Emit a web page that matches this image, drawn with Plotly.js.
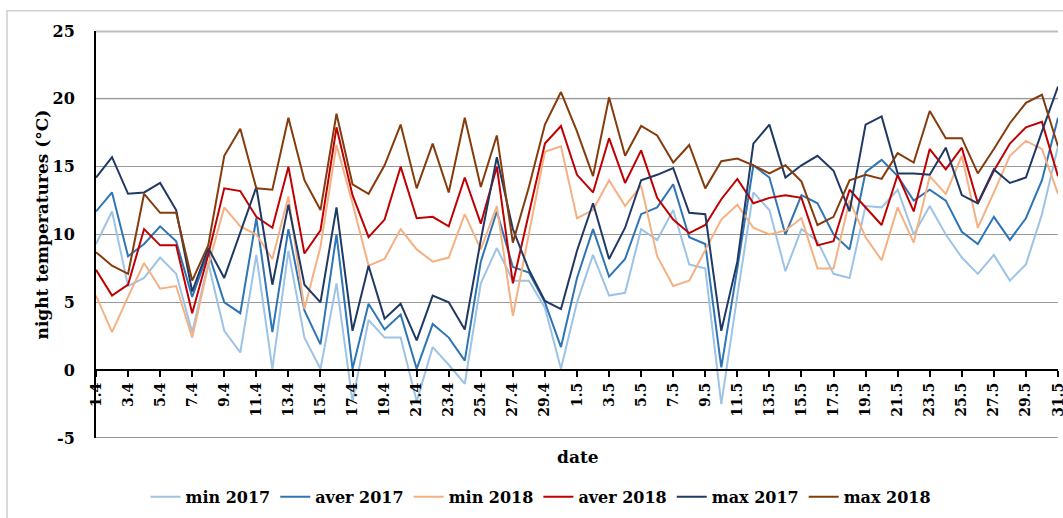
<!DOCTYPE html>
<html>
<head>
<meta charset="utf-8">
<script src="https://cdn.plot.ly/plotly-3.0.1.min.js"></script>
<style>html,body{margin:0;padding:0;background:#fff;}#chart{width:1063px;height:518px;}</style>
</head>
<body>
<div id="chart"></div>
<script>
const dates = ["1.4","2.4","3.4","4.4","5.4","6.4","7.4","8.4","9.4","10.4","11.4","12.4","13.4","14.4","15.4","16.4","17.4","18.4","19.4","20.4","21.4","22.4","23.4","24.4","25.4","26.4","27.4","28.4","29.4","30.4",
"1.5","2.5","3.5","4.5","5.5","6.5","7.5","8.5","9.5","10.5","11.5","12.5","13.5","14.5","15.5","16.5","17.5","18.5","19.5","20.5","21.5","22.5","23.5","24.5","25.5","26.5","27.5","28.5","29.5","30.5","31.5"];

const min2017 = [9.3,11.7,6.2,6.8,8.3,7.1,2.8,7.9,2.9,1.3,8.5,0.1,8.8,2.4,0.1,6.4,-2.3,3.7,2.4,2.4,-2.3,1.7,0.4,-1.0,6.4,9.0,6.6,6.6,4.6,0.1,
5.0,8.5,5.5,5.7,10.4,9.6,11.8,7.8,7.5,-2.5,5.5,13.1,11.8,7.3,10.4,9.5,7.1,6.8,12.1,12.0,13.3,10.0,12.1,10.0,8.3,7.1,8.5,6.6,7.8,11.5,16.5];
const aver2017 = [11.7,13.1,8.4,9.3,10.6,9.5,5.4,8.7,5.0,4.2,11.2,2.8,10.4,4.4,1.9,10.0,0.1,4.9,3.0,4.1,0.1,3.4,2.4,0.7,8.0,11.7,7.6,7.2,5.0,1.7,
6.8,10.4,6.9,8.2,11.5,12.0,13.7,9.8,9.3,0.2,7.5,15.1,14.2,10.0,12.9,12.3,10.0,8.9,14.6,15.5,14.3,12.5,13.3,12.5,10.2,9.3,11.3,9.6,11.2,14.0,18.6];
const min2018 = [5.5,2.8,5.4,7.9,6.0,6.2,2.4,7.7,12.0,10.6,10.0,8.2,12.8,4.5,9.1,16.6,12.3,7.7,8.2,10.4,8.9,8.0,8.3,11.5,8.9,12.1,4.0,10.0,16.1,16.5,
11.2,11.8,14.0,12.1,13.6,8.4,6.2,6.6,8.8,11.1,12.2,10.5,10.0,10.3,11.2,7.5,7.5,12.5,9.8,8.1,12.0,9.4,14.3,13.0,15.8,10.5,13.1,15.8,16.9,16.3,13.0];
const aver2018 = [7.4,5.5,6.3,10.4,9.2,9.2,4.2,8.5,13.4,13.2,11.3,10.5,15.0,8.6,10.3,17.9,12.9,9.8,11.1,15.0,11.2,11.3,10.6,14.2,10.8,15.0,6.4,11.5,16.7,18.0,
14.4,13.1,17.1,13.8,16.2,12.7,11.1,10.1,10.7,12.6,14.1,12.3,12.7,12.9,12.7,9.2,9.5,13.3,12.0,10.7,14.4,11.7,16.3,14.8,16.4,12.3,14.7,16.7,17.9,18.3,14.3];
const max2017 = [14.2,15.7,13.0,13.1,13.8,11.8,5.8,9.0,6.8,10.1,13.5,6.3,12.2,6.3,5.0,12.0,2.9,7.7,3.8,4.9,2.2,5.5,5.0,3.0,9.6,15.7,10.4,7.4,5.1,4.5,
8.8,12.3,8.2,10.5,14.0,14.4,14.9,11.6,11.5,2.9,8.0,16.7,18.1,14.2,15.1,15.8,14.7,11.7,18.1,18.7,14.5,14.5,14.4,16.4,12.9,12.3,14.8,13.8,14.2,17.6,20.9];
const max2018 = [8.7,7.7,7.1,13.0,11.6,11.6,6.6,9.2,15.8,17.8,13.4,13.3,18.6,14.0,11.8,18.9,13.7,13.0,15.1,18.1,13.4,16.7,13.1,18.6,13.5,17.3,9.4,13.5,18.1,20.5,
17.6,14.3,20.1,15.8,18.0,17.3,15.3,16.6,13.4,15.4,15.6,15.1,14.5,15.1,13.9,10.7,11.3,14.0,14.4,14.1,16.0,15.3,19.1,17.1,17.1,14.5,16.3,18.2,19.7,20.3,16.5];

const seriesNames = ["min 2017","aver 2017","min 2018","aver 2018","max 2017","max 2018"];
const seriesData = [min2017, aver2017, min2018, aver2018, max2017, max2018];
const colors = ["#9dc3e6","#2e75b6","#f4b183","#c00000","#1f3864","#843c0c"];

const yTickVals = [-5, 0, 5, 10, 15, 20, 25];
const yTickText = ["-5", "0", "5", "10", "15", "20", "25"];
const tickDates = dates.filter((d, i) => i % 2 === 0);

const FONT = "DejaVu Serif, Liberation Serif, serif";

const traces = seriesData.map((ys, k) => ({
  type: "scatter",
  mode: "lines",
  name: seriesNames[k],
  x: dates,
  y: ys,
  line: {color: colors[k], width: 2},
  hoverinfo: "x+y+name"
}));

function hline(v, color, w) {
  return {type: "line", xref: "paper", yref: "y", x0: 0, x1: 1, y0: v, y1: v, layer: "between", line: {color: color, width: w}};
}

const layout = {
  width: 1063,
  height: 518,
  margin: {l: 96, r: 5, t: 31, b: 79},
  paper_bgcolor: "#ffffff",
  plot_bgcolor: "#ffffff",
  showlegend: true,
  font: {family: FONT, color: "#000000"},
  xaxis: {
    type: "category",
    range: [0, 60],
    anchor: "free",
    position: 5/30,
    showline: true,
    linecolor: "#000000",
    linewidth: 2,
    showgrid: false,
    zeroline: false,
    tickmode: "array",
    tickvals: tickDates,
    ticktext: tickDates,
    ticks: "outside",
    ticklen: 6,
    tickwidth: 2,
    tickcolor: "#000000",
    tickangle: -90,
    tickfont: {family: FONT, size: 14, color: "#000000", weight: "bold"}
  },
  yaxis: {
    range: [-5, 25],
    tickmode: "array",
    tickvals: yTickVals,
    ticktext: yTickText,
    showline: true,
    linecolor: "#000000",
    linewidth: 2,
    showgrid: true,
    gridcolor: "#9a9a9a",
    gridwidth: 1,
    zeroline: false,
    ticks: "outside",
    ticklen: 16,
    tickcolor: "rgba(0,0,0,0)",
    tickfont: {family: FONT, size: 16, color: "#000000", weight: "bold"}
  },
  legend: {
    orientation: "h",
    x: (541 - 96) / 962,
    xanchor: "center",
    y: -0.142,
    yanchor: "middle",
    font: {family: FONT, size: 16, color: "#000000", weight: "bold"},
    itemwidth: 30,
    traceorder: "normal"
  },
  shapes: [
    hline(20, "#d4d4d4", 2),
    hline(-5, "#9a9a9a", 2),
    {type: "line", xref: "paper", yref: "paper", x0: 0, x1: 1, y0: 0.999, y1: 0.999, layer: "above", line: {color: "#bdbdbd", width: 2}},
    {type: "rect", xref: "paper", yref: "paper", x0: -0.0925, x1: 1.02, y0: -0.3, y1: 1.05, layer: "above", line: {color: "#cfcfcf", width: 1.5}, fillcolor: "rgba(0,0,0,0)"}
  ],
  annotations: [
    {text: "night temperatures (°C)", xref: "paper", yref: "paper", x: -0.056, y: 0.525, xanchor: "center", yanchor: "middle", textangle: -90, showarrow: false,
     font: {family: FONT, size: 17, color: "#000000", weight: "bold"}},
    {text: "date", xref: "paper", yref: "paper", x: (578 - 96) / 962, y: -(458 - 439) / 408, xanchor: "center", yanchor: "middle", showarrow: false,
     font: {family: FONT, size: 17, color: "#000000", weight: "bold"}}
  ]
};

Plotly.newPlot("chart", traces, layout, {displayModeBar: false, staticPlot: true});
</script>
</body>
</html>
